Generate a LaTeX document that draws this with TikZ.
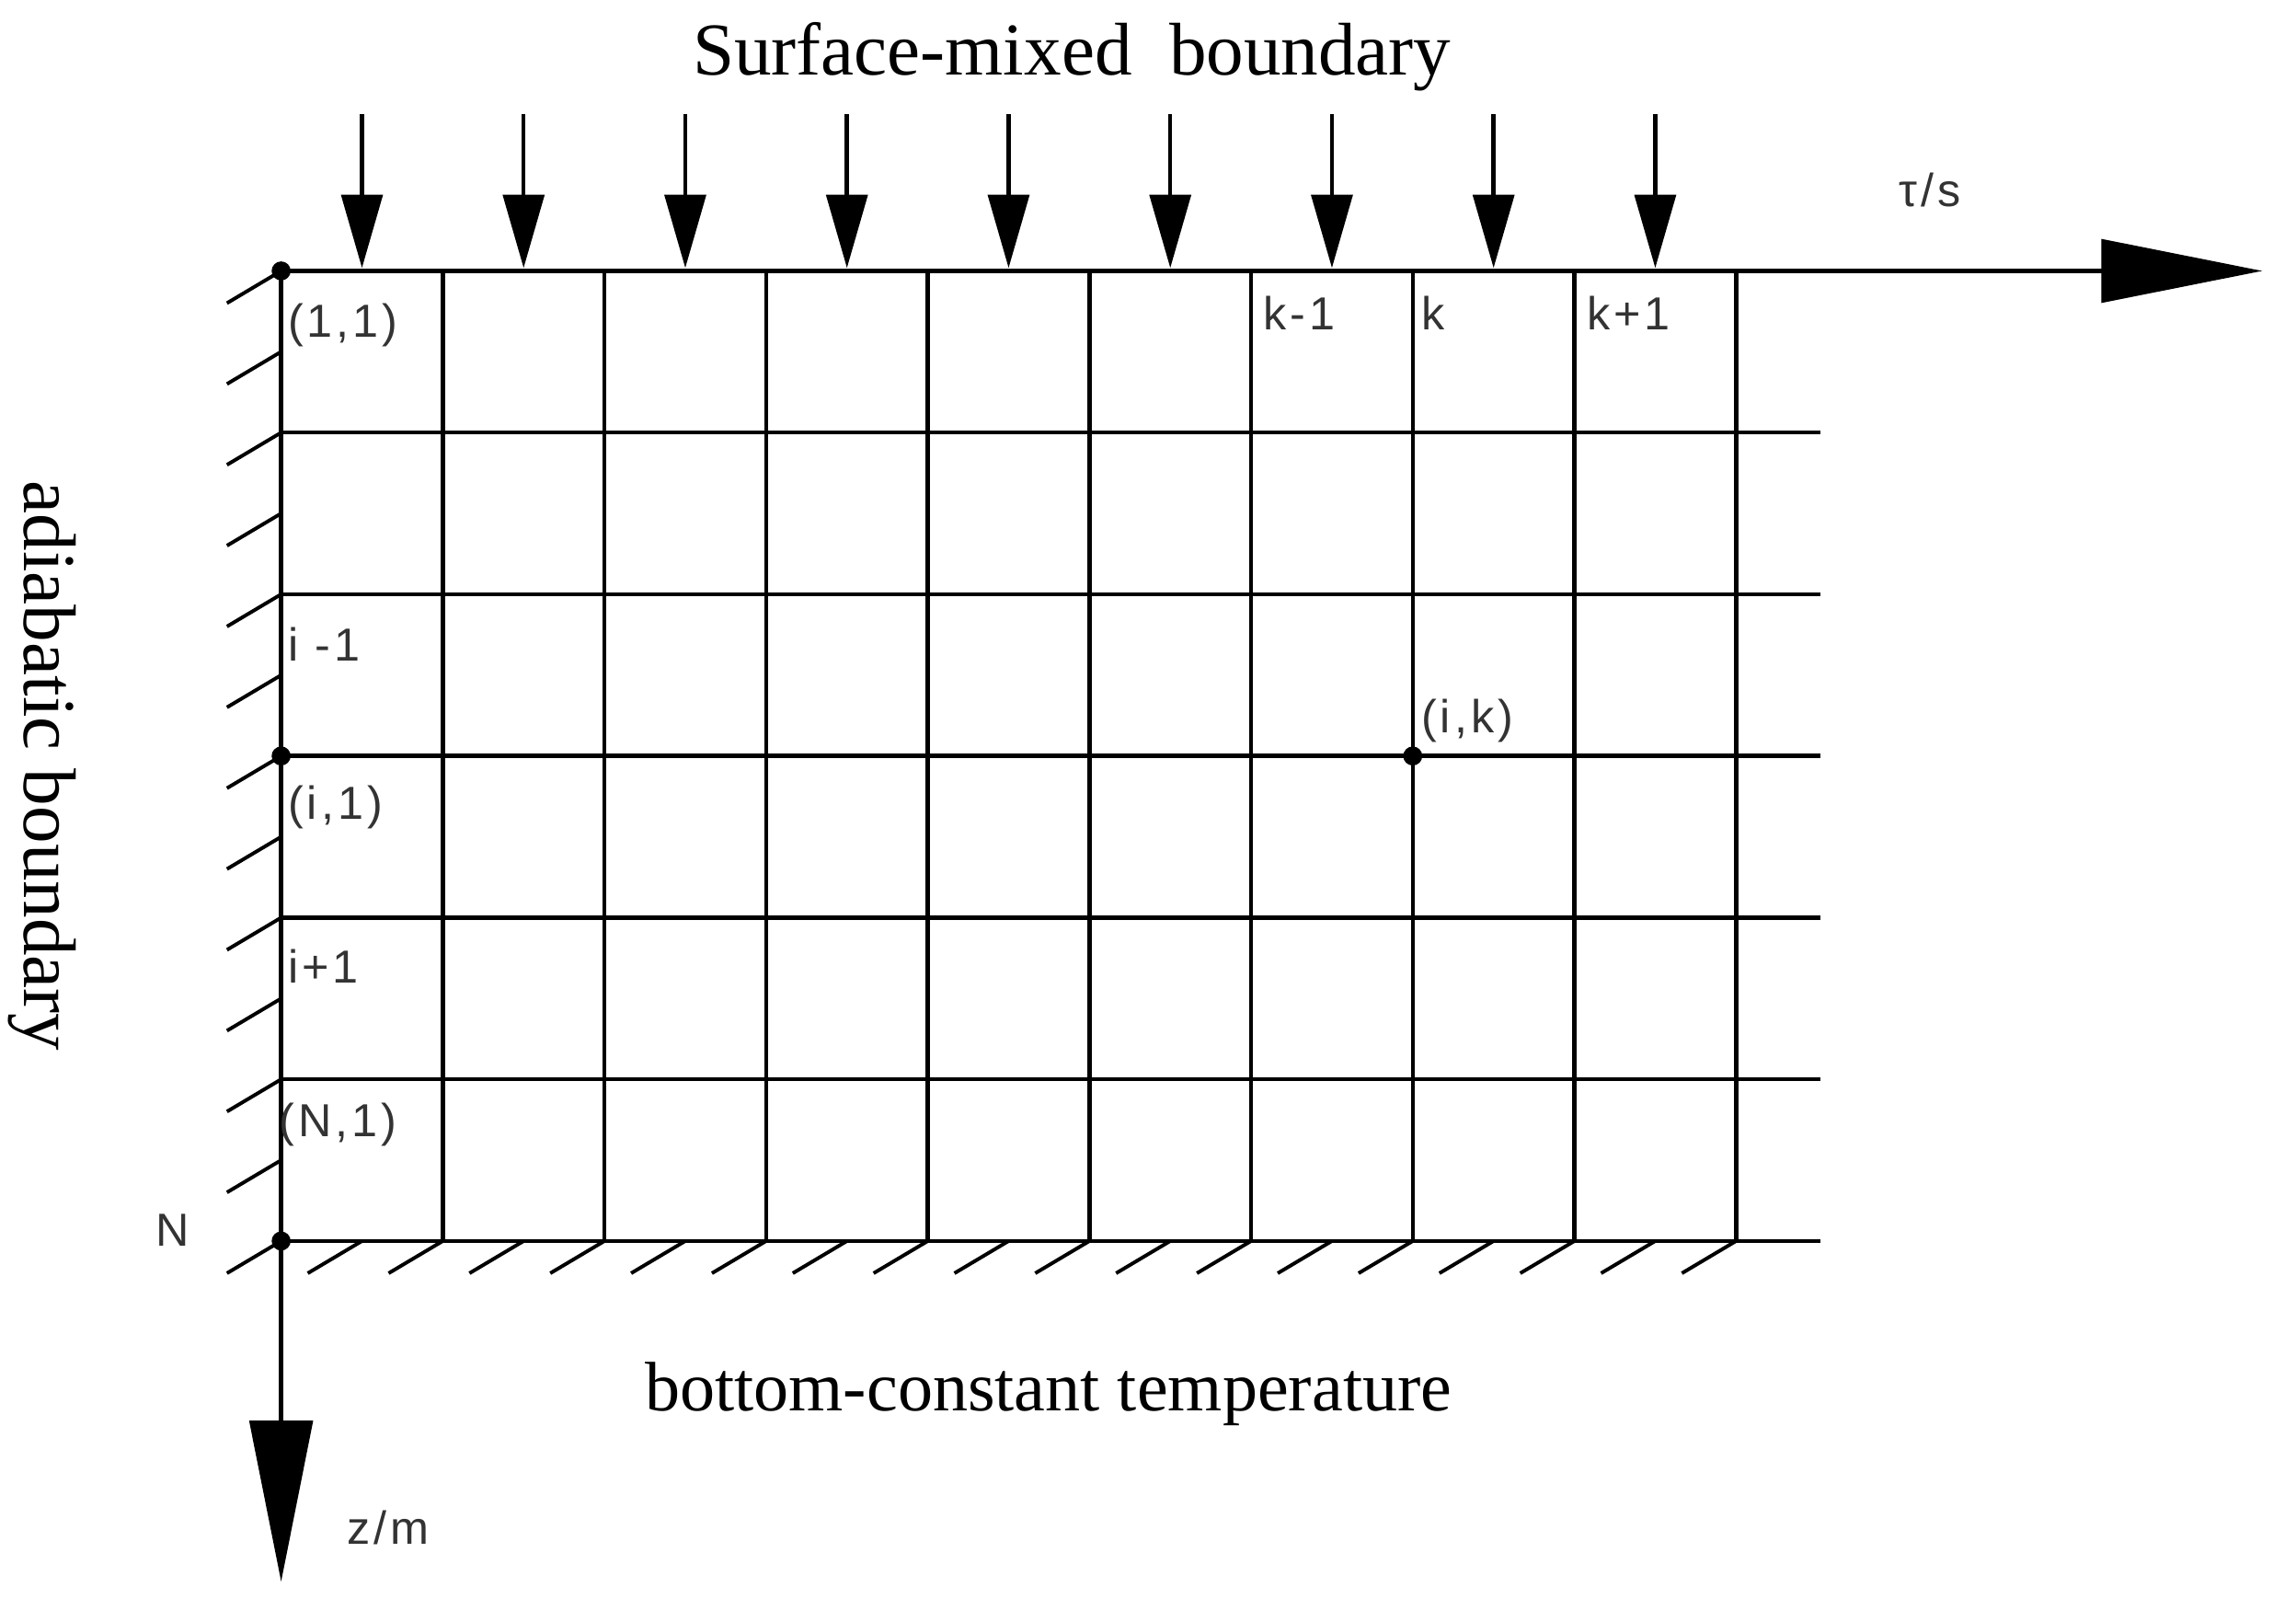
\documentclass[tikz,border=0pt]{standalone}
\usepackage{fontspec}
\setmainfont{Liberation Serif}
\newfontfamily\lblfont[LetterSpace=8]{Liberation Sans}
\usepackage{tikz}
\usetikzlibrary{calc, arrows.meta}
\definecolor{gridInk}{HTML}{000000}
\definecolor{labelGray}{HTML}{333333}
\tikzset{
  gridline/.style={line width=0.8pt, draw=gridInk},
  hatchline/.style={line width=0.7pt, draw=gridInk},
  axisarrow/.style={line width=0.8pt, -{Triangle[length=11mm,width=4.3mm]}},
  fluxarrow/.style={line width=0.8pt, -{Triangle[length=5mm,width=2.8mm]}},
  cellLabel/.style={font=\lblfont\fontsize{9}{10}\selectfont, text=labelGray, inner sep=0pt, anchor=west},
  titleLabel/.style={font=\fontsize{14.5}{17}\selectfont, inner sep=0pt},
}
\newcommand{\gridDot}[1]{\fill[gridInk] (#1) circle (0.065);}
\newcommand{\dx}{1.104}

\begin{document}
\begin{tikzpicture}
  \useasboundingbox (0,0) rectangle (15.68,10.99);
  % axes
  \coordinate (O) at (1.92,9.14);
  \coordinate (tauEnd) at (15.45,9.14);
  \coordinate (zEnd) at (1.92,0.19);
  \coordinate (NW) at (1.92,2.516);
  \coordinate (ik) at ({1.92+7*\dx},{9.14-3*\dx});
  \coordinate (i1) at (1.92,{9.14-3*\dx});
  \draw[axisarrow] (O) -- (tauEnd);
  \draw[axisarrow] (O) -- (zEnd);
  % grid
  \foreach \r in {1,...,6}
    \draw[gridline] ($(O)+(0,-\r*\dx)$) -- ++(10.51,0);
  \foreach \c in {1,...,9}
    \draw[gridline] ($(O)+(\c*\dx,0)$) -- ++(0,-6*\dx);
  % surface flux arrows
  \foreach \c in {0,...,8}
    \draw[fluxarrow] ($(O)+({(\c+0.5)*\dx},1.07)$) -- ($(O)+({(\c+0.5)*\dx},0.02)$);
  % hatching
  \foreach \j in {0,...,12}
    \draw[hatchline] ($(O)+(0,-\j*\dx/2)$) -- ++(-0.37,-0.22);
  \foreach \j in {1,...,18}
    \draw[hatchline] ($(NW)+(\j*\dx/2,0)$) -- ++(-0.37,-0.22);
  % nodes
  \gridDot{O}
  \gridDot{i1}
  \gridDot{NW}
  \gridDot{ik}
  % labels
  \node[titleLabel] (surf) at (7.32,10.60) {Surface-mixed\ \ boundary};
  \node[titleLabel, font=\fontsize{13.6}{16}\selectfont] (bottom) at (7.16,1.47) {bottom-constant temperature};
  \node[titleLabel, rotate=-90] (adiab) at (0.29,5.76) {adiabatic boundary};
  \node[cellLabel, anchor=center] (tau) at (13.18,9.69) {τ/s};
  \node[cellLabel, anchor=center] (zm) at (2.65,0.56) {z/m};
  \node[cellLabel, anchor=center] (N) at (1.18,2.59) {N};
  \node[cellLabel] (l11) at (1.96,8.77) {(1,1)};
  \node[cellLabel] (lim) at (1.96,6.59) {i -1};
  \node[cellLabel] (li1) at (1.96,5.48) {(i,1)};
  \node[cellLabel] (lip) at (1.96,4.39) {i+1};
  \node[cellLabel] (lN1) at (1.90,3.31) {(N,1)};
  \node[cellLabel] (lkm) at (8.62,8.85) {k-1};
  \node[cellLabel] (lk) at (9.70,8.85) {k};
  \node[cellLabel] (lkp) at (10.83,8.85) {k+1};
  \node[cellLabel] (lik) at (9.70,6.07) {(i,k)};
\end{tikzpicture}
\end{document}
